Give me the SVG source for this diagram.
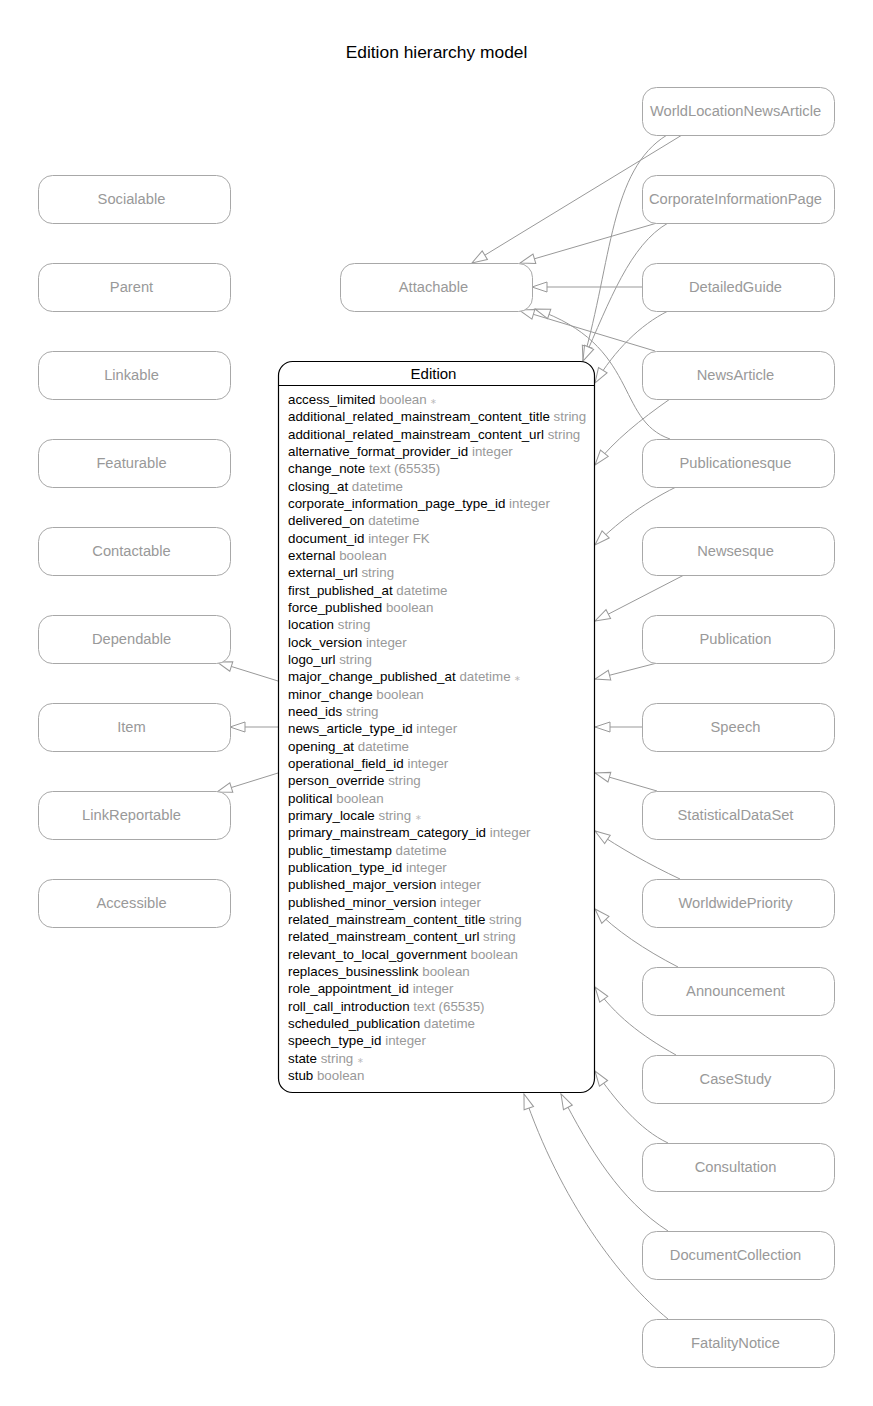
<svg xmlns="http://www.w3.org/2000/svg" width="873" height="1406" viewBox="0 0 873 1406">
<style>
text{font-family:"Liberation Sans",Arial,Helvetica,sans-serif}
.title{font-size:17.4px;fill:#000}
.node rect{fill:#fff;stroke:#a8a8a8;stroke-width:1}
.node text{font-size:14.7px;fill:#999;text-anchor:middle}
.edge{fill:none;stroke:#999;stroke-width:1;marker-end:url(#tri)}
.ent{fill:#fff;stroke:#000;stroke-width:1.2}
.hdr{font-size:15px;fill:#000;text-anchor:middle}
.f{font-size:13.35px;fill:#000}
.t{fill:#999}
.s{fill:#bbb;font-size:8px}
</style>
<defs>
<marker id="tri" markerUnits="userSpaceOnUse" markerWidth="17" markerHeight="13" refX="15.5" refY="5.5" orient="auto" overflow="visible">
<path d="M0.5,0.5 L15.5,5.5 L0.5,10.5 Z" fill="#fff" stroke="#999" stroke-width="1"/>
</marker>
</defs>
<rect width="873" height="1406" fill="#fff"/>
<text class="title" x="436.5" y="58" text-anchor="middle">Edition hierarchy model</text>

<g id="connectors">
<path class="edge" d="M667,135 C610,170 612,260 583,361"/>
<path class="edge" d="M668,223 C630,245 610,300 583,361"/>
<path class="edge" d="M668,311 C640,325 615,350 595,383"/>
<path class="edge" d="M682,135 L472,263"/>
<path class="edge" d="M657,223 L520,263"/>
<path class="edge" d="M642,287 L532,287"/>
<path class="edge" d="M655,351 L519,310"/>
<path class="edge" d="M670,439 C615,420 640,345 535,309"/>
<path class="edge" d="M670,399 C640,420 615,440 595,465"/>
<path class="edge" d="M676,487 C640,505 615,525 595,545"/>
<path class="edge" d="M684,575 L595,621"/>
<path class="edge" d="M657,663 L595,679"/>
<path class="edge" d="M642,727 L595,727"/>
<path class="edge" d="M657,791 L595,773"/>
<path class="edge" d="M680,879 C650,865 620,848 595,831"/>
<path class="edge" d="M678,967 C645,950 615,930 595,909"/>
<path class="edge" d="M676,1055 C640,1035 615,1015 595,987"/>
<path class="edge" d="M668,1143 C640,1130 615,1100 595,1071"/>
<path class="edge" d="M668,1231 C620,1200 590,1150 561,1094"/>
<path class="edge" d="M668,1319 C620,1280 560,1200 524,1094"/>
<path class="edge" d="M278,681 L217,662"/>
<path class="edge" d="M278,727 L230,727"/>
<path class="edge" d="M278,773 L217,792"/>
</g>

<g id="Socialable" class="node"><rect x="38.5" y="175.5" width="192" height="48" rx="14"/><text x="131.5" y="204">Socialable</text></g>
<g id="Parent" class="node"><rect x="38.5" y="263.5" width="192" height="48" rx="14"/><text x="131.5" y="292">Parent</text></g>
<g id="Linkable" class="node"><rect x="38.5" y="351.5" width="192" height="48" rx="14"/><text x="131.5" y="380">Linkable</text></g>
<g id="Featurable" class="node"><rect x="38.5" y="439.5" width="192" height="48" rx="14"/><text x="131.5" y="468">Featurable</text></g>
<g id="Contactable" class="node"><rect x="38.5" y="527.5" width="192" height="48" rx="14"/><text x="131.5" y="556">Contactable</text></g>
<g id="Dependable" class="node"><rect x="38.5" y="615.5" width="192" height="48" rx="14"/><text x="131.5" y="644">Dependable</text></g>
<g id="Item" class="node"><rect x="38.5" y="703.5" width="192" height="48" rx="14"/><text x="131.5" y="732">Item</text></g>
<g id="LinkReportable" class="node"><rect x="38.5" y="791.5" width="192" height="48" rx="14"/><text x="131.5" y="820">LinkReportable</text></g>
<g id="Accessible" class="node"><rect x="38.5" y="879.5" width="192" height="48" rx="14"/><text x="131.5" y="908">Accessible</text></g>

<g id="Attachable" class="node"><rect x="340.5" y="263.5" width="192" height="48" rx="14"/><text x="433.5" y="292">Attachable</text></g>

<g id="WorldLocationNewsArticle" class="node"><rect x="642.5" y="87.5" width="192" height="48" rx="14"/><text x="735.5" y="116">WorldLocationNewsArticle</text></g>
<g id="CorporateInformationPage" class="node"><rect x="642.5" y="175.5" width="192" height="48" rx="14"/><text x="735.5" y="204">CorporateInformationPage</text></g>
<g id="DetailedGuide" class="node"><rect x="642.5" y="263.5" width="192" height="48" rx="14"/><text x="735.5" y="292">DetailedGuide</text></g>
<g id="NewsArticle" class="node"><rect x="642.5" y="351.5" width="192" height="48" rx="14"/><text x="735.5" y="380">NewsArticle</text></g>
<g id="Publicationesque" class="node"><rect x="642.5" y="439.5" width="192" height="48" rx="14"/><text x="735.5" y="468">Publicationesque</text></g>
<g id="Newsesque" class="node"><rect x="642.5" y="527.5" width="192" height="48" rx="14"/><text x="735.5" y="556">Newsesque</text></g>
<g id="Publication" class="node"><rect x="642.5" y="615.5" width="192" height="48" rx="14"/><text x="735.5" y="644">Publication</text></g>
<g id="Speech" class="node"><rect x="642.5" y="703.5" width="192" height="48" rx="14"/><text x="735.5" y="732">Speech</text></g>
<g id="StatisticalDataSet" class="node"><rect x="642.5" y="791.5" width="192" height="48" rx="14"/><text x="735.5" y="820">StatisticalDataSet</text></g>
<g id="WorldwidePriority" class="node"><rect x="642.5" y="879.5" width="192" height="48" rx="14"/><text x="735.5" y="908">WorldwidePriority</text></g>
<g id="Announcement" class="node"><rect x="642.5" y="967.5" width="192" height="48" rx="14"/><text x="735.5" y="996">Announcement</text></g>
<g id="CaseStudy" class="node"><rect x="642.5" y="1055.5" width="192" height="48" rx="14"/><text x="735.5" y="1084">CaseStudy</text></g>
<g id="Consultation" class="node"><rect x="642.5" y="1143.5" width="192" height="48" rx="14"/><text x="735.5" y="1172">Consultation</text></g>
<g id="DocumentCollection" class="node"><rect x="642.5" y="1231.5" width="192" height="48" rx="14"/><text x="735.5" y="1260">DocumentCollection</text></g>
<g id="FatalityNotice" class="node"><rect x="642.5" y="1319.5" width="192" height="48" rx="14"/><text x="735.5" y="1348">FatalityNotice</text></g>

<g id="Edition">
<rect class="ent" x="278.5" y="361.5" width="316" height="731" rx="14"/>
<line x1="278.5" y1="385.5" x2="594.5" y2="385.5" stroke="#000" stroke-width="1.2"/>
<text class="hdr" x="433.5" y="379">Edition</text>
<text class="f" x="288" y="404">access_limited <tspan class="t">boolean</tspan> <tspan class="s">∗</tspan></text>
<text class="f" x="288" y="421.3">additional_related_mainstream_content_title <tspan class="t">string</tspan></text>
<text class="f" x="288" y="438.7">additional_related_mainstream_content_url <tspan class="t">string</tspan></text>
<text class="f" x="288" y="456">alternative_format_provider_id <tspan class="t">integer</tspan></text>
<text class="f" x="288" y="473.3">change_note <tspan class="t">text (65535)</tspan></text>
<text class="f" x="288" y="490.7">closing_at <tspan class="t">datetime</tspan></text>
<text class="f" x="288" y="508">corporate_information_page_type_id <tspan class="t">integer</tspan></text>
<text class="f" x="288" y="525.3">delivered_on <tspan class="t">datetime</tspan></text>
<text class="f" x="288" y="542.7">document_id <tspan class="t">integer FK</tspan></text>
<text class="f" x="288" y="560">external <tspan class="t">boolean</tspan></text>
<text class="f" x="288" y="577.3">external_url <tspan class="t">string</tspan></text>
<text class="f" x="288" y="594.7">first_published_at <tspan class="t">datetime</tspan></text>
<text class="f" x="288" y="612">force_published <tspan class="t">boolean</tspan></text>
<text class="f" x="288" y="629.3">location <tspan class="t">string</tspan></text>
<text class="f" x="288" y="646.7">lock_version <tspan class="t">integer</tspan></text>
<text class="f" x="288" y="664">logo_url <tspan class="t">string</tspan></text>
<text class="f" x="288" y="681.3">major_change_published_at <tspan class="t">datetime</tspan> <tspan class="s">∗</tspan></text>
<text class="f" x="288" y="698.7">minor_change <tspan class="t">boolean</tspan></text>
<text class="f" x="288" y="716">need_ids <tspan class="t">string</tspan></text>
<text class="f" x="288" y="733.3">news_article_type_id <tspan class="t">integer</tspan></text>
<text class="f" x="288" y="750.7">opening_at <tspan class="t">datetime</tspan></text>
<text class="f" x="288" y="768">operational_field_id <tspan class="t">integer</tspan></text>
<text class="f" x="288" y="785.3">person_override <tspan class="t">string</tspan></text>
<text class="f" x="288" y="802.7">political <tspan class="t">boolean</tspan></text>
<text class="f" x="288" y="820">primary_locale <tspan class="t">string</tspan> <tspan class="s">∗</tspan></text>
<text class="f" x="288" y="837.3">primary_mainstream_category_id <tspan class="t">integer</tspan></text>
<text class="f" x="288" y="854.7">public_timestamp <tspan class="t">datetime</tspan></text>
<text class="f" x="288" y="872">publication_type_id <tspan class="t">integer</tspan></text>
<text class="f" x="288" y="889.3">published_major_version <tspan class="t">integer</tspan></text>
<text class="f" x="288" y="906.7">published_minor_version <tspan class="t">integer</tspan></text>
<text class="f" x="288" y="924">related_mainstream_content_title <tspan class="t">string</tspan></text>
<text class="f" x="288" y="941.3">related_mainstream_content_url <tspan class="t">string</tspan></text>
<text class="f" x="288" y="958.7">relevant_to_local_government <tspan class="t">boolean</tspan></text>
<text class="f" x="288" y="976">replaces_businesslink <tspan class="t">boolean</tspan></text>
<text class="f" x="288" y="993.3">role_appointment_id <tspan class="t">integer</tspan></text>
<text class="f" x="288" y="1010.7">roll_call_introduction <tspan class="t">text (65535)</tspan></text>
<text class="f" x="288" y="1028">scheduled_publication <tspan class="t">datetime</tspan></text>
<text class="f" x="288" y="1045.3">speech_type_id <tspan class="t">integer</tspan></text>
<text class="f" x="288" y="1062.7">state <tspan class="t">string</tspan> <tspan class="s">∗</tspan></text>
<text class="f" x="288" y="1080">stub <tspan class="t">boolean</tspan></text>
</g>
</svg>
